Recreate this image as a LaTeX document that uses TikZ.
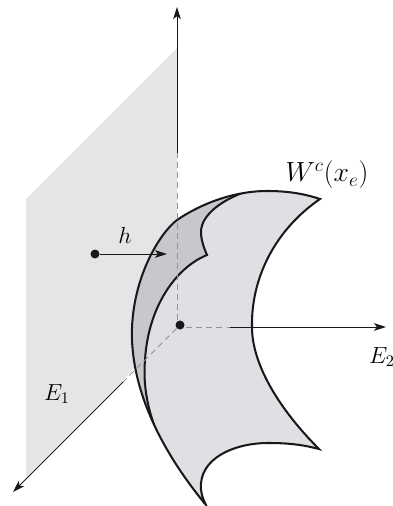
\documentclass[tikz,border=0pt]{standalone}
\usepackage{amsmath,amssymb}
\usepackage{xcolor}
\usetikzlibrary{arrows.meta}
\definecolor{planegray}{rgb}{0.895,0.9,0.905}
\definecolor{sheetgray}{rgb}{0.875,0.88,0.89}
\definecolor{foldgray}{rgb}{0.78,0.785,0.8}
\newcommand{\sheetoutline}{(320,199) .. controls (302,193) and (285,191) .. (267,191)
    .. controls (235,191) and (202,203) .. (177,220)
    .. controls (160,233) and (134,275) .. (132,328)
    .. controls (130,385) and (158,447) .. (206,505)
    .. controls (204,501) and (202,497) .. (201,490)
    .. controls (198,458) and (235,443) .. (268,443)
    .. controls (285,443) and (300,444) .. (319,449)
    .. controls (280,410) and (252,365) .. (252,327)
    .. controls (251,278) and (275,230) .. (320,199) -- cycle}
\tikzset{
  axisline/.style={black!90, line width=0.65pt},
  hiddenline/.style={gray!85, line width=0.55pt, dash pattern=on 4.2pt off 3pt},
  sheetline/.style={black!90, line width=1.45pt, line join=miter},
  dotmark/.style={circle, fill=black!90, inner sep=0pt, minimum size=6.4pt},
  tiphead/.style={-{Stealth[length=8.5pt,width=5.4pt,inset=2pt]}},
  axislabel/.style={font=\Large, scale=1.15},
}
\begin{document}
\begin{tikzpicture}[x=0.025cm,y=-0.025cm]
  \useasboundingbox (0,0) rectangle (393,506);
  % Plane
  \fill[planegray] (26,199) -- (177,48) -- (177,326) -- (26,477) -- cycle;
  % Sheet
  \fill[sheetgray] \sheetoutline;
  \begin{scope}
    \clip \sheetoutline;
    \draw[sheetline, fill=foldgray]
      (245,192) .. controls (222,200) and (201,215) .. (201,232)
      .. controls (201,240) and (204,248) .. (207,255)
      .. controls (175,268) and (148,308) .. (145,360)
      .. controls (143,385) and (147,410) .. (160,440)
      -- (100,440) -- (100,190) -- cycle;
  \end{scope}
  \draw[sheetline] \sheetoutline;
  % Named points
  \node[dotmark] (origin) at (180,325) {};
  \node[dotmark] (base) at (95,254) {};
  \coordinate (topend) at (177,7);
  \coordinate (topbreak) at (177,153);
  \coordinate (topfoot) at (177,320);
  \coordinate (rightstart) at (186,327);
  \coordinate (rightbreak) at (230,327);
  \coordinate (rightend) at (386,327);
  \coordinate (leftbreak) at (123,382);
  \coordinate (leftend) at (13,492);
  \coordinate (hend) at (167,254);
  % Axes
  \draw[hiddenline] (topfoot) -- (topbreak);
  \draw[hiddenline] (origin) -- (leftbreak);
  \draw[hiddenline] (rightstart) -- (rightbreak);
  \draw[axisline, tiphead] (topbreak) -- (topend);
  \draw[axisline, tiphead] (leftbreak) -- (leftend);
  \draw[axisline, tiphead] (rightbreak) -- (rightend);
  \draw[axisline, tiphead] (base) -- (hend);
  % Labels
  \node[axislabel] (hlabel) at (125,235) {$h$};
  \node[axislabel] (eone) at (57,394) {$E_1$};
  \node[axislabel] (etwo) at (382,357) {$E_2$};
  \node[font=\LARGE, scale=1.14] (sheetname) at (327,175) {$W^c(x_e)$};
\end{tikzpicture}
\end{document}
